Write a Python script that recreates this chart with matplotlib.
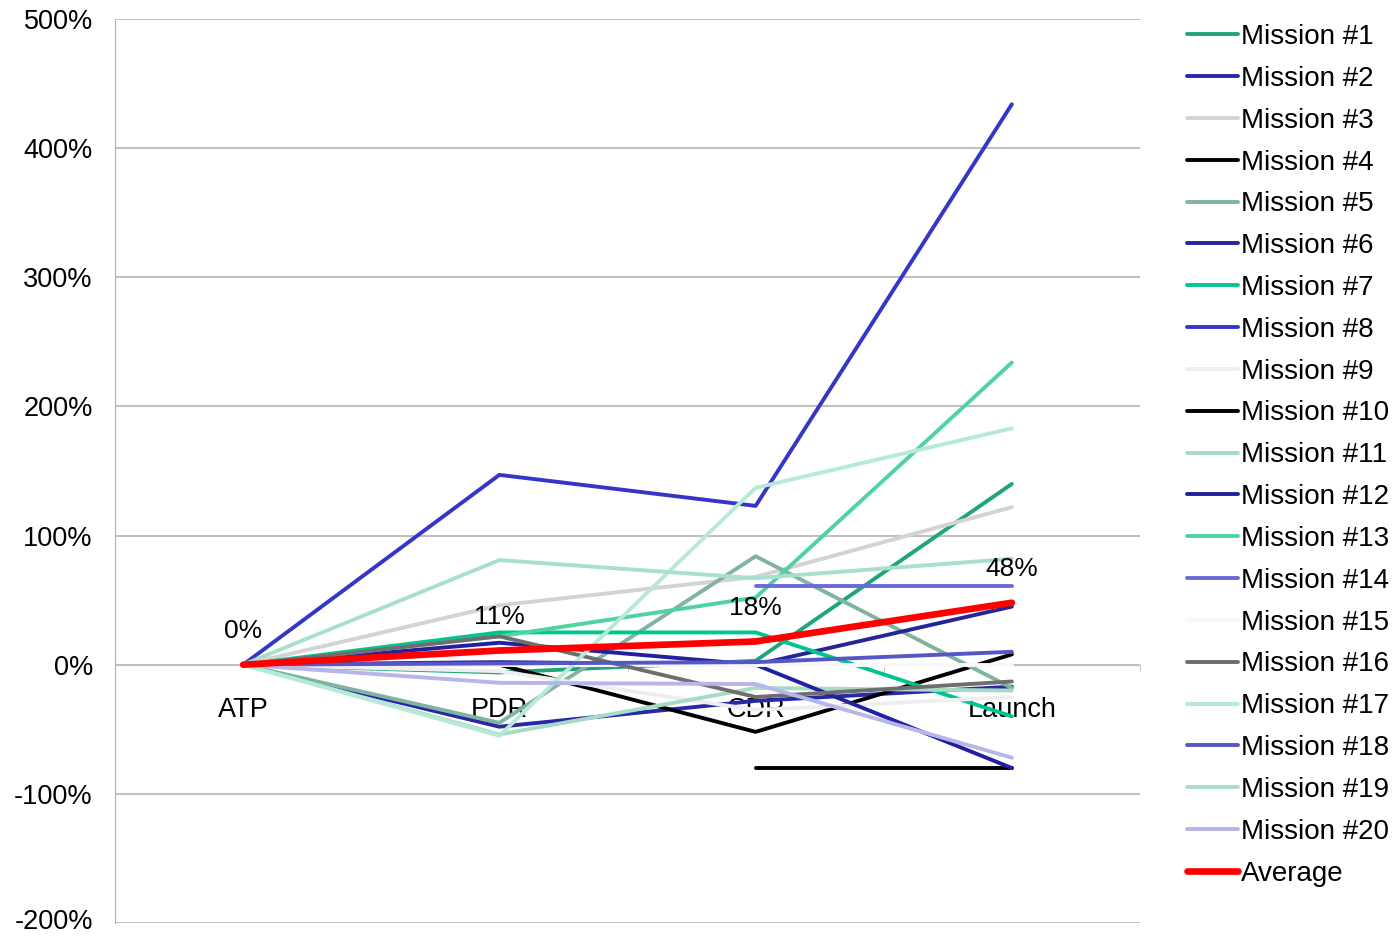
import numpy as np
import matplotlib.pyplot as plt
import matplotlib.transforms as mtransforms
from matplotlib.ticker import FuncFormatter

plt.rcParams["font.family"] = ["Liberation Sans", "DejaVu Sans"]

milestones = ["ATP", "PDR", "CDR", "Launch"]

mission_names = [f"Mission #{i}" for i in range(1, 21)]
mission_colors = [
    "#1FA57A", "#2828A8", "#D3D3D3", "#000000", "#80B4A2",
    "#25259A", "#00C58E", "#3535C8", "#EEEEEE", "#000000",
    "#A6DCC6", "#2020A0", "#4FD3A0", "#6A6AD6", "#F8F8F8",
    "#6E6E6E", "#B6EAD6", "#5656C6", "#A8E0CC", "#B6B6EA",
]

# percent growth relative to ATP, per milestone (nan = not reported)
m01 = [0, -6, 3, 140]
m02 = [0, -48, -28, -17]
m03 = [0, 46, 68, 122]
m04 = [0, 0, -52, 8]
m05 = [0, -45, 84, -18]
m06 = [0, 2, 0, 45]
m07 = [0, 25, 25, -40]
m08 = [0, 147, 123, 434]
m09 = [0, -5, -35, -25]
m10 = [np.nan, np.nan, -80, -80]
m11 = [0, -54, -18, -20]
m12 = [0, 17, 0, -80]
m13 = [0, 22, 52, 234]
m14 = [np.nan, np.nan, 61, 61]
m15 = [0, 0, 0, 0]
m16 = [0, 22, -25, -13]
m17 = [0, -55, 137, 183]
m18 = [0, 1, 2, 10]
m19 = [0, 81, 67, 82]
m20 = [0, -14, -15, -72]
average = [0, 11, 18, 48]

missions = [m01, m02, m03, m04, m05, m06, m07, m08, m09, m10,
            m11, m12, m13, m14, m15, m16, m17, m18, m19, m20]

fig = plt.figure(figsize=(13.93, 9.36), dpi=100)
ax = fig.add_axes([115 / 1393, 1 - 923 / 936, 1025 / 1393, 904 / 936])

x = np.arange(len(milestones))
for name, vals, col in zip(mission_names, missions, mission_colors):
    ax.plot(x, vals, color=col, lw=2.8, label=name, solid_capstyle="round")
ax.plot(x, average, color="#FF0000", lw=4.8, label="Average", solid_capstyle="round")

for xi, v in zip(x, average):
    ax.annotate(f"{v:.0f}%", (xi, v), xytext=(0, 24), textcoords="offset points",
                ha="center", va="center", fontsize=19)

ax.set_xlim(-0.5, 3.5)
ax.set_ylim(-200, 500)
ax.set_yticks(np.arange(-200, 501, 100))
ax.yaxis.set_major_formatter(FuncFormatter(lambda v, p: f"{v:.0f}%"))
ax.grid(axis="y", color="#C0C0C0", lw=1.5)
ax.set_axisbelow(True)

ax.set_xticks(x)
ax.set_xticklabels(milestones)
ax.set_xticks(np.arange(-0.5, 4, 1), minor=True)
ax.tick_params(axis="x", which="major", length=0, pad=23, labelsize=19.5)
ax.tick_params(axis="x", which="minor", length=5, color="#C0C0C0", direction="out")
ax.tick_params(axis="y", length=0, pad=16, labelsize=19.5)

# nudge the lowest y label up so it stays inside the figure
low = ax.get_yticklabels()[0]
low.set_transform(low.get_transform() +
                  mtransforms.ScaledTranslation(0, 4 / 100, fig.dpi_scale_trans))

ax.spines["bottom"].set_position(("data", 0))
ax.spines["bottom"].set_color("#C0C0C0")
ax.spines["bottom"].set_zorder(0)
ax.spines["left"].set_color("#B0B0B0")
ax.spines["top"].set_visible(False)
ax.spines["right"].set_visible(False)

fig.legend(loc="upper left", bbox_to_anchor=(1187 / 1393, 1 - 24 / 936),
           frameon=False, fontsize=20, handlelength=1.85, handletextpad=0.1,
           labelspacing=0.57, borderaxespad=0, borderpad=0)

fig.savefig("out.png", dpi=100)
